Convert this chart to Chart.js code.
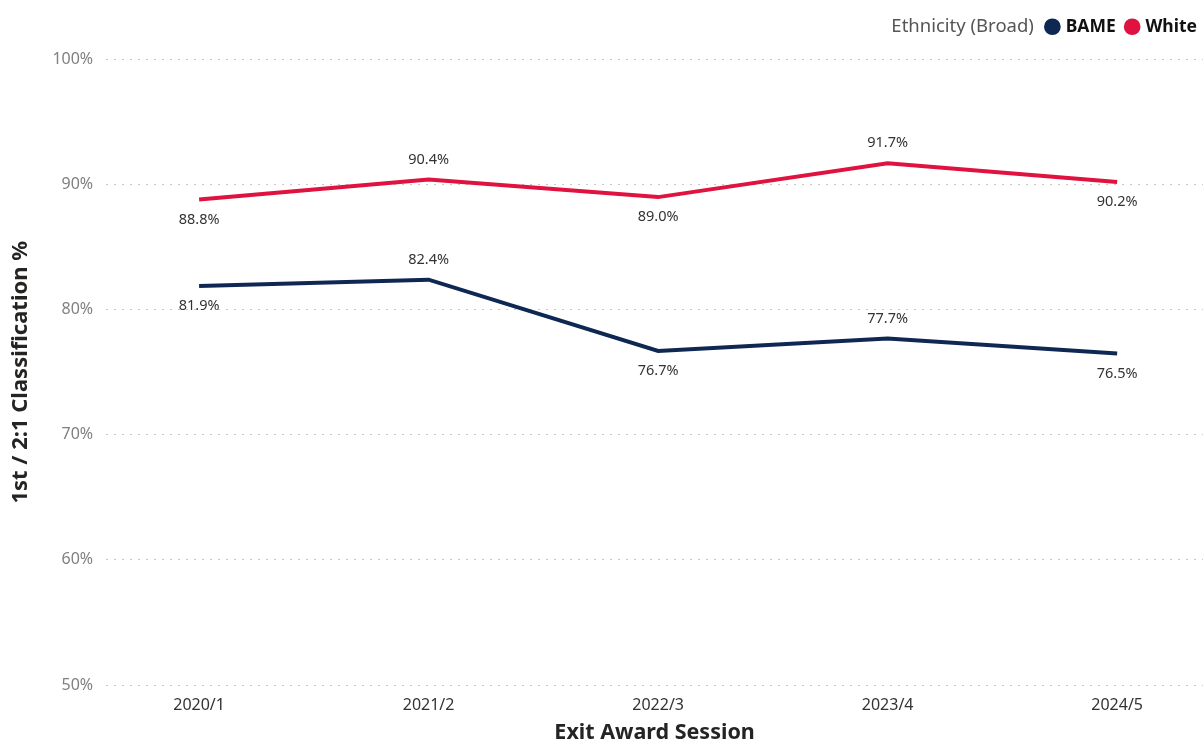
<!DOCTYPE html>
<html>
<head>
<meta charset="utf-8">
<script src="https://cdn.jsdelivr.net/npm/chart.js@4.4.1/dist/chart.umd.min.js"></script>
<style>
  html, body { margin: 0; padding: 0; background: #fff; }
  #wrap { position: relative; width: 1203px; height: 743px; }
</style>
</head>
<body>
<div id="wrap"><canvas id="c" width="1203" height="743"></canvas></div>
<script>
const categories = ["2020/1", "2021/2", "2022/3", "2023/4", "2024/5"];
const bameValues = [81.9, 82.4, 76.7, 77.7, 76.5];
const whiteValues = [88.8, 90.4, 89.0, 91.7, 90.2];
const yTicks = [50, 60, 70, 80, 90, 100];

const FONT = "'Segoe UI', 'Noto Sans', 'Open Sans', sans-serif";
const NAVY = "#0f2853";
const RED = "#e0123f";

const toPoints = arr => arr.map((v, i) => ({ x: i, y: v }));

const labelPlugin = {
  id: 'pointLabels',
  afterDatasetsDraw(chart) {
    const ctx = chart.ctx;
    ctx.save();
    ctx.font = "14.5px " + FONT;
    ctx.fillStyle = "#333333";
    ctx.textAlign = "center";
    ctx.textBaseline = "middle";
    chart.data.datasets.forEach((ds, di) => {
      const meta = chart.getDatasetMeta(di);
      meta.data.forEach((pt, i) => {
        const v = ds.data[i].y;
        const dy = (i % 2 === 0) ? 20 : -20;
        ctx.fillText(v.toFixed(1) + "%", pt.x, pt.y + dy);
      });
    });
    ctx.restore();
  }
};

const legendTitlePlugin = {
  id: 'legendTitle',
  beforeInit(chart) {
    const lg = chart.legend;
    if (lg) {
      const origFit = lg.fit;
      lg.fit = function () { origFit.call(this); this.height += 14; };
    }
  },
  afterLayout(chart) {
    const lg = chart.legend;
    if (lg) { lg.left += 6; lg.right += 6; }
  },
  afterDraw(chart) {
    const lg = chart.legend;
    if (!lg || !lg.legendHitBoxes || !lg.legendHitBoxes.length) return;
    const hb = lg.legendHitBoxes[0];
    const ctx = chart.ctx;
    ctx.save();
    ctx.font = "18.5px " + FONT;
    ctx.fillStyle = "#555555";
    ctx.textAlign = "right";
    ctx.textBaseline = "middle";
    ctx.fillText("Ethnicity (Broad)", hb.left - 14, hb.top + hb.height / 2);
    ctx.restore();
  }
};

new Chart(document.getElementById('c'), {
  type: 'line',
  data: {
    datasets: [
      { label: 'BAME', data: toPoints(bameValues), borderColor: NAVY, backgroundColor: NAVY,
        borderWidth: 4, pointRadius: 0, pointHoverRadius: 0, tension: 0 },
      { label: 'White', data: toPoints(whiteValues), borderColor: RED, backgroundColor: RED,
        borderWidth: 4, pointRadius: 0, pointHoverRadius: 0, tension: 0 }
    ]
  },
  options: {
    responsive: false,
    animation: false,
    layout: { padding: { left: 8, right: 0, top: 6, bottom: 0 } },
    plugins: {
      tooltip: { enabled: false },
      legend: {
        position: 'top',
        align: 'end',
        labels: {
          usePointStyle: true,
          pointStyle: 'circle',
          boxWidth: 9,
          boxHeight: 9,
          padding: 12,
          color: '#111111',
          font: { family: FONT, size: 17.5, weight: 'bold' }
        }
      }
    },
    scales: {
      x: {
        type: 'linear',
        min: -0.405,
        max: 4.374,
        afterBuildTicks: scale => { scale.ticks = categories.map((_, i) => ({ value: i })); },
        ticks: {
          callback: v => categories[v] ?? '',
          color: '#333333',
          font: { family: FONT, size: 16 },
          padding: 11,
          maxRotation: 0
        },
        grid: { display: false, drawTicks: false },
        border: { display: false },
        title: {
          display: true,
          text: 'Exit Award Session',
          color: '#252423',
          font: { family: FONT, size: 21.5, weight: 'bold' },
          padding: { top: -6, bottom: -3 }
        }
      },
      y: {
        min: 50,
        max: 100,
        afterBuildTicks: scale => { scale.ticks = yTicks.map(v => ({ value: v })); },
        ticks: {
          callback: v => v + '%',
          color: '#808080',
          font: { family: FONT, size: 16 },
          padding: 13
        },
        grid: { color: '#c8c8c8', lineWidth: 1, drawTicks: false },
        border: { display: false, dash: [2, 6] },
        title: {
          display: true,
          text: '1st / 2:1 Classification %',
          color: '#252423',
          font: { family: FONT, size: 22, weight: 'bold' },
          padding: { top: 0, bottom: 5 }
        }
      }
    }
  },
  plugins: [labelPlugin, legendTitlePlugin]
});
</script>
</body>
</html>
